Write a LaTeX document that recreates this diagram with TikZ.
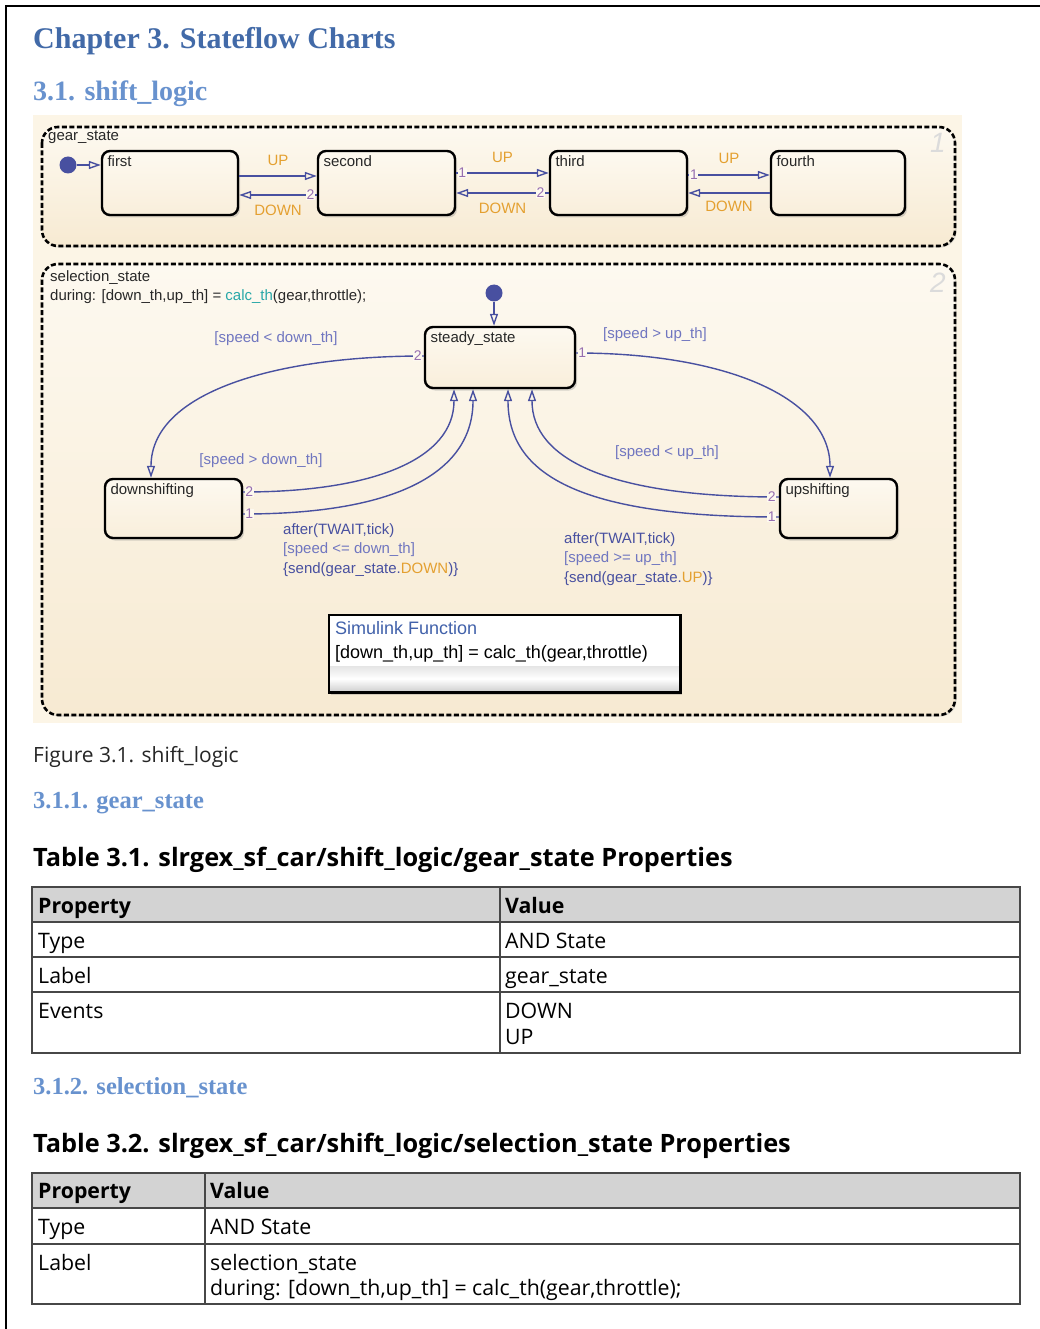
\documentclass[tikz,border=0pt]{standalone}
\usepackage{fontspec}
\setmainfont{Open Sans}
\newfontfamily\headfont{Liberation Serif}
\newfontfamily\chartfont{Liberation Sans}
\usetikzlibrary{calc}
\usetikzlibrary{arrows.meta}
\usetikzlibrary{shadows}

\definecolor{headblue}{RGB}{66,106,168}
\definecolor{subblue}{RGB}{104,146,206}
\definecolor{wire}{RGB}{72,80,160}
\definecolor{guard}{RGB}{112,118,192}
\definecolor{evt}{RGB}{228,160,48}
\definecolor{calccol}{RGB}{40,168,168}
\definecolor{portcol}{RGB}{150,110,175}
\definecolor{chartbg}{RGB}{252,245,230}
\definecolor{boxtop}{RGB}{253,249,240}
\definecolor{boxbot}{RGB}{247,234,210}
\definecolor{nametxt}{RGB}{40,40,40}
\definecolor{tablegray}{RGB}{211,211,211}

\newcommand\chartsize{\chartfont\fontsize{15}{19.5}\selectfont}

\begin{document}
\begin{tikzpicture}[x=1pt, y=-1pt, every node/.style={inner sep=0pt},
  superbox/.style={draw=black, line width=2.6pt, dash pattern=on 5pt off 2.5pt, rounded corners=16pt, top color=boxtop, bottom color=boxbot, drop shadow={opacity=.25, shadow xshift=1.5pt, shadow yshift=-1.5pt}},
  state/.style={draw=black, line width=2.4pt, rounded corners=8pt, top color=boxtop, bottom color=boxbot!70!boxtop, drop shadow={opacity=.3, shadow xshift=2pt, shadow yshift=-2.5pt}},
  statename/.style={anchor=north west, font=\chartsize, text=nametxt, inner xsep=6.5pt, inner ysep=6pt},
  trans/.style={draw=wire, line width=1.4pt, -{Triangle[open, length=12pt, width=8pt]}},
  guardtxt/.style={font=\chartsize, text=guard},
  evtxt/.style={font=\chartsize, text=evt},
  actxt/.style={font=\chartsize, text=wire, align=left, anchor=north west},
  portnum/.style={font=\chartfont\fontsize{14}{14}\selectfont, text=portcol, fill=boxtop, inner sep=.6pt},
  initdot/.style={circle, fill=wire, minimum size=17pt},
  boxnum/.style={font=\chartfont\itshape\fontsize{28}{28}\selectfont, text=black!14},
  head/.style={anchor=base west, font=\headfont\bfseries\fontsize{#1}{#1}\selectfont},
  tblline/.style={draw=black!72, line width=2pt},
  cell/.style={anchor=base west, font=\fontsize{21.3}{24}\selectfont},
  bcell/.style={anchor=base west, font=\bfseries\fontsize{21.3}{24}\selectfont},
  tcap/.style={anchor=base west, font=\bfseries\fontsize{25.3}{28}\selectfont}
]
\useasboundingbox (0,0) rectangle (1040,1329);
\fill[white] (0,0) rectangle (1040,1329);
\draw[line width=2pt] (6,1329) -- (6,6) -- (1040,6);

\node[head=30, text=headblue] (chap) at (33,49) {Chapter 3. Stateflow Charts};
\node[head=28, text=subblue] (secA) at (33,101) {3.1. shift\_logic};

\fill[chartbg] (33,115) rectangle (962,723);
\path[superbox] (42,127) rectangle (955,246);
\path[superbox] (42,264) rectangle (955,715);

\node[font=\chartsize, text=nametxt, anchor=north west] (gslabel) at (48,131) {gear\_state};
\node[boxnum] (gsnum) at (938,143) {1};
\node[font=\chartsize, text=nametxt, anchor=north west, align=left] (sslabel) at (50,270) {selection\_state\\during: [down\_th,up\_th] = \textcolor{calccol}{calc\_th}(gear,throttle);};
\node[boxnum] (ssnum) at (938,283) {2};

\node[state, minimum width=136pt, minimum height=64pt, label={[statename]north west:first}] (first) at (170,183) {};
\node[state, minimum width=137pt, minimum height=64pt, label={[statename]north west:second}] (second) at (386.5,183) {};
\node[state, minimum width=137pt, minimum height=64pt, label={[statename]north west:third}] (third) at (618.5,183) {};
\node[state, minimum width=134pt, minimum height=64pt, label={[statename]north west:fourth}] (fourth) at (838,183) {};

\node[initdot] (gsinit) at (68,165) {};
\draw[trans] (gsinit) -- ([yshift=18pt]first.west);

\draw[trans] ([yshift=7pt]first.east) -- ([yshift=7pt]second.west) node[midway, evtxt, yshift=16pt] (up1) {UP};
\draw[trans] ([yshift=-12pt]second.west) -- ([yshift=-12pt]first.east) node[midway, evtxt, yshift=-15pt] (dn1) {DOWN} node[pos=.08, portnum] (p21) {2};
\draw[trans] ([yshift=10pt]second.east) -- ([yshift=10pt]third.west) node[midway, evtxt, yshift=16pt] (up2) {UP} node[pos=.065, portnum] (p12) {1};
\draw[trans] ([yshift=-10pt]third.west) -- ([yshift=-10pt]second.east) node[midway, evtxt, yshift=-15pt] (dn2) {DOWN} node[pos=.09, portnum] (p22) {2};
\draw[trans] ([yshift=8pt]third.east) -- ([yshift=8pt]fourth.west) node[midway, evtxt, yshift=17pt] (up3) {UP} node[pos=.07, portnum] (p13) {1};
\draw[trans] ([yshift=-10pt]fourth.west) -- ([yshift=-10pt]third.east) node[midway, evtxt, yshift=-13pt] (dn3) {DOWN};

\node[state, minimum width=150pt, minimum height=61pt, label={[statename]north west:steady\_state}] (steady) at (500,357.5) {};
\node[state, minimum width=137pt, minimum height=59pt, label={[statename]north west:downshifting}] (downsh) at (173.5,508.5) {};
\node[state, minimum width=117pt, minimum height=59pt, label={[statename]north west:upshifting}] (upsh) at (838.5,508.5) {};

\node[initdot] (ssinit) at (494,293) {};
\draw[trans] (ssinit) -- ([xshift=-6pt]steady.north);

\draw[trans] ([yshift=1.5pt]steady.west) .. controls +(-150,0) and +(0,-85) .. ([xshift=-22.5pt]downsh.north);
\draw[trans] ([yshift=4.5pt]steady.east) .. controls +(150,0) and +(0,-80) .. ([xshift=-8.5pt]upsh.north);
\draw[trans] ([yshift=16.5pt]downsh.east) .. controls +(130,0) and +(0,70) .. ([xshift=-46pt]steady.south);
\draw[trans] ([yshift=-5.5pt]downsh.east) .. controls +(160,0) and +(0,80) .. ([xshift=-27pt]steady.south);
\draw[trans] ([yshift=11.5pt]upsh.west) .. controls +(-170,0) and +(0,70) .. ([xshift=32pt]steady.south);
\draw[trans] ([yshift=-8.5pt]upsh.west) .. controls +(-200,0) and +(0,85) .. ([xshift=8pt]steady.south);

\node[portnum] (ps2) at ([xshift=-6pt,yshift=1.5pt]steady.west) {2};
\node[portnum] (ps1) at ([xshift=6pt,yshift=4.5pt]steady.east) {1};
\node[portnum] (pd2) at ([xshift=6pt,yshift=16.5pt]downsh.east) {2};
\node[portnum] (pd1) at ([xshift=6pt,yshift=-5.5pt]downsh.east) {1};
\node[portnum] (pu2) at ([xshift=-7pt,yshift=11.5pt]upsh.west) {2};
\node[portnum] (pu1) at ([xshift=-7pt,yshift=-8.5pt]upsh.west) {1};

\node[guardtxt] (gdown) at (276,339) {[speed < down\_th]};
\node[guardtxt] (gup) at (655,335) {[speed > up\_th]};
\node[guardtxt] (gback) at (261,461) {[speed > down\_th]};
\node[guardtxt] (gupback) at (667,453) {[speed < up\_th]};
\node[actxt] (actdown) at (283,523) {after(TWAIT,tick)\\\textcolor{guard}{[speed <= down\_th]}\\\{send(gear\_state.\textcolor{evt}{DOWN})\}};
\node[actxt] (actup) at (564,532) {after(TWAIT,tick)\\\textcolor{guard}{[speed >= up\_th]}\\\{send(gear\_state.\textcolor{evt}{UP})\}};

\node[fill=white, minimum width=351pt, minimum height=77pt, drop shadow={opacity=.3, shadow xshift=2pt, shadow yshift=-2.5pt}] (slfun) at (504.5,653.5) {};
\shade[top color=black!10, bottom color=black!18, middle color=white] ($(slfun.south west)+(0,-1)$) rectangle ($(slfun.south east)+(0,-26)$);
\draw[line width=2.6pt] (slfun.south west) rectangle (slfun.north east);
\node[anchor=west, font=\chartfont\fontsize{18}{22}\selectfont, text=wire!90!cyan] (sltitle) at (335,628) {Simulink Function};
\node[anchor=west, font=\chartfont\fontsize{18}{22}\selectfont, text=black] (slsig) at (335,654) {[down\_th,up\_th] = calc\_th(gear,throttle)};

\node[anchor=base west, font=\fontsize{21}{24}\selectfont, text=black!85] (figcap) at (33,762) {Figure 3.1. shift\_logic};
\node[head=24.5, text=subblue] (secB) at (33,808) {3.1.1. gear\_state};
\node[tcap] (tcapA) at (33,866) {Table 3.1. slrgex\_sf\_car/shift\_logic/gear\_state Properties};

\fill[tablegray] (32,887) rectangle (1020,922);
\foreach \y in {922,957,992} \draw[tblline] (32,\y) -- (1020,\y);
\draw[tblline] (500,887) -- (500,1053);
\draw[tblline] (32,887) rectangle (1020,1053);
\node[bcell] (pA) at (38,913) {Property};
\node[bcell] (vA) at (505,913) {Value};
\node[cell] (typeA) at (38,948) {Type};
\node[cell] (andA) at (505,948) {AND State};
\node[cell] (labA) at (38,983) {Label};
\node[cell] (gsA) at (505,983) {gear\_state};
\node[cell] (evA) at (38,1018) {Events};
\node[cell] (dnA) at (505,1018) {DOWN};
\node[cell] (upA) at (505,1044) {UP};

\node[head=24.5, text=subblue] (secC) at (33,1094) {3.1.2. selection\_state};
\node[tcap] (tcapB) at (33,1152) {Table 3.2. slrgex\_sf\_car/shift\_logic/selection\_state Properties};

\fill[tablegray] (32,1173) rectangle (1020,1208);
\foreach \y in {1208,1244} \draw[tblline] (32,\y) -- (1020,\y);
\draw[tblline] (205,1173) -- (205,1304);
\draw[tblline] (32,1173) rectangle (1020,1304);
\node[bcell] (pB) at (38,1198) {Property};
\node[bcell] (vB) at (210,1198) {Value};
\node[cell] (typeB) at (38,1234) {Type};
\node[cell] (andB) at (210,1234) {AND State};
\node[cell] (labB) at (38,1270) {Label};
\node[cell] (ssB) at (210,1270) {selection\_state};
\node[cell] (durB) at (210,1295) {during: [down\_th,up\_th] = calc\_th(gear,throttle);};
\end{tikzpicture}
\end{document}
